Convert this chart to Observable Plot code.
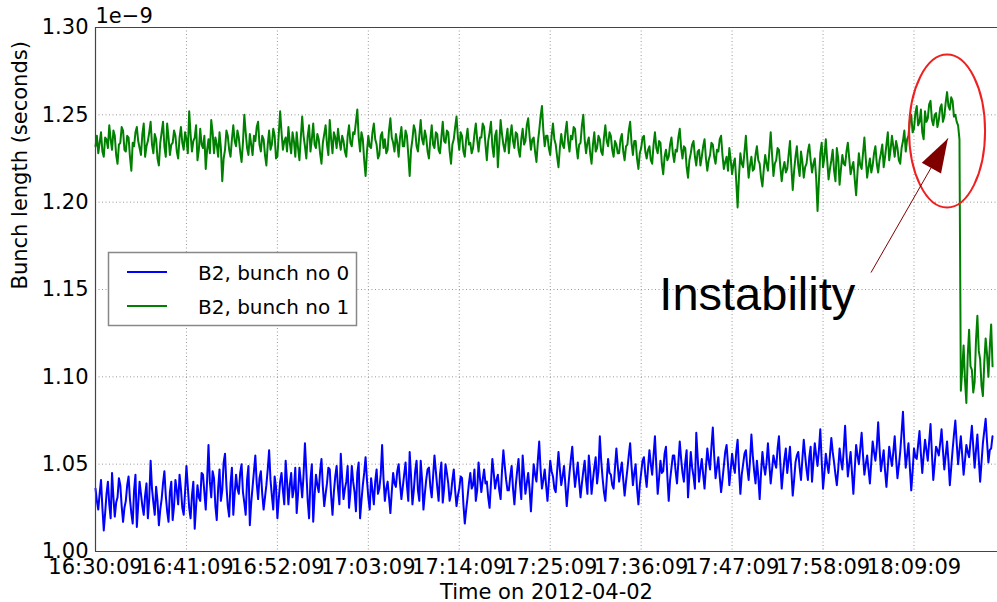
<!DOCTYPE html>
<html><head><meta charset="utf-8">
<script src="https://cdn.jsdelivr.net/npm/d3@7"></script>
<script src="https://cdn.jsdelivr.net/npm/@observablehq/plot@0.6"></script>
<style>
html,body{margin:0;padding:0;background:#fff;}
#chart svg{display:block;}
</style></head><body><div id="chart"></div>
<script>
// ---- data ----
const startTime = "2012-04-02T16:30:09Z";
const endTime = "2012-04-02T18:19:15Z";
const sampleSeconds = 10;
const seriesNames = ["B2, bunch no 0", "B2, bunch no 1"];
const seriesColors = ["#0000ff", "#008000"];

// bunch length in units of 1e-9 s, one sample every 10 s
const bunch0 = [
1.036,1.029,1.024,1.033,1.041,1.025,1.012,1.022,1.033,1.040,1.027,1.019,1.045,1.031,1.020,1.028,1.031,1.042,1.038,1.026,
1.017,1.025,1.029,1.038,1.043,1.030,1.022,1.016,1.035,1.044,1.014,1.027,1.040,1.033,1.026,1.021,1.032,1.039,1.019,1.030,
1.052,1.036,1.028,1.021,1.037,1.029,1.015,1.024,1.030,1.039,1.046,1.032,1.023,1.017,1.034,1.040,1.018,1.026,1.041,1.035,
1.027,1.044,1.036,1.025,1.021,1.034,1.049,1.037,1.025,1.019,1.032,1.040,1.013,1.026,1.038,1.031,1.029,1.045,1.044,1.034,
1.024,1.041,1.061,1.040,1.031,1.046,1.042,1.026,1.018,1.036,1.047,1.029,1.035,1.051,1.056,1.038,1.026,1.020,1.039,1.048,
1.021,1.033,1.044,1.036,1.033,1.045,1.050,1.034,1.028,1.021,1.041,1.049,1.015,1.028,1.037,1.046,1.055,1.039,1.030,1.042,
1.046,1.033,1.024,1.031,1.038,1.047,1.058,1.041,1.032,1.024,1.043,1.037,1.019,1.030,1.040,1.045,1.035,1.027,1.052,1.040,
1.027,1.038,1.045,1.031,1.036,1.048,1.022,1.033,1.048,1.040,1.031,1.044,1.062,1.046,1.029,1.019,1.041,1.050,1.017,1.032,
1.044,1.038,1.034,1.046,1.053,1.037,1.026,1.033,1.039,1.048,1.047,1.032,1.021,1.034,1.043,1.049,1.036,1.027,1.056,1.042,
1.030,1.036,1.040,1.049,1.025,1.034,1.049,1.040,1.034,1.023,1.045,1.051,1.019,1.029,1.038,1.045,1.054,1.041,1.031,1.024,
1.042,1.035,1.027,1.040,1.047,1.033,1.036,1.044,1.061,1.042,1.029,1.036,1.040,1.031,1.022,1.034,1.045,1.039,1.037,1.046,
1.050,1.039,1.030,1.037,1.044,1.051,1.038,1.029,1.057,1.043,1.027,1.035,1.046,1.052,1.035,1.029,1.052,1.041,1.024,1.033,
1.041,1.047,1.048,1.037,1.031,1.043,1.055,1.046,1.037,1.029,1.044,1.051,1.028,1.036,1.050,1.045,1.039,1.029,1.033,1.041,
1.047,1.035,1.026,1.032,1.036,1.043,1.042,1.027,1.016,1.024,1.031,1.039,1.045,1.036,1.038,1.047,1.029,1.035,1.051,1.042,
1.034,1.041,1.047,1.039,1.040,1.031,1.025,1.039,1.053,1.045,1.036,1.041,1.044,1.035,1.030,1.046,1.058,1.049,1.041,1.035,
1.035,1.043,1.049,1.036,1.027,1.038,1.046,1.053,1.039,1.030,1.055,1.044,1.033,1.039,1.045,1.036,1.023,1.037,1.050,1.044,
1.040,1.052,1.063,1.047,1.036,1.041,1.047,1.038,1.029,1.040,1.052,1.046,1.043,1.036,1.034,1.046,1.057,1.047,1.038,1.043,
1.049,1.038,1.026,1.036,1.045,1.053,1.060,1.047,1.037,1.044,1.051,1.040,1.031,1.039,1.046,1.052,1.041,1.033,1.055,1.046,
1.033,1.041,1.048,1.054,1.039,1.046,1.066,1.052,1.042,1.034,1.029,1.041,1.053,1.045,1.044,1.038,1.036,1.048,1.059,1.049,
1.040,1.046,1.051,1.041,1.032,1.040,1.047,1.055,1.062,1.049,1.038,1.045,1.050,1.036,1.027,1.038,1.045,1.052,1.054,1.044,
1.037,1.048,1.058,1.050,1.044,1.055,1.066,1.049,1.033,1.042,1.052,1.045,1.046,1.056,1.060,1.043,1.029,1.041,1.048,1.055,
1.055,1.046,1.039,1.051,1.063,1.053,1.045,1.040,1.051,1.058,1.031,1.044,1.057,1.048,1.043,1.036,1.068,1.054,1.040,1.047,
1.053,1.044,1.036,1.048,1.059,1.052,1.047,1.060,1.071,1.055,1.042,1.048,1.054,1.043,1.034,1.041,1.049,1.057,1.061,1.050,
1.038,1.047,1.056,1.049,1.045,1.057,1.064,1.047,1.033,1.044,1.050,1.056,1.058,1.048,1.041,1.052,1.067,1.055,1.046,1.039,
1.052,1.043,1.030,1.045,1.057,1.049,1.044,1.051,1.062,1.050,1.039,1.047,1.055,1.051,1.048,1.059,1.066,1.050,1.036,1.045,
1.053,1.059,1.045,1.052,1.060,1.046,1.032,1.041,1.051,1.055,1.057,1.048,1.041,1.053,1.064,1.055,1.047,1.041,1.054,1.060,
1.040,1.051,1.062,1.055,1.049,1.058,1.070,1.052,1.036,1.045,1.056,1.050,1.045,1.055,1.065,1.057,1.051,1.044,1.038,1.047,
1.059,1.052,1.047,1.058,1.072,1.056,1.043,1.050,1.057,1.045,1.033,1.047,1.061,1.055,1.050,1.059,1.068,1.055,1.044,1.050,
1.055,1.047,1.039,1.051,1.063,1.057,1.052,1.060,1.074,1.059,1.046,1.052,1.058,1.046,1.037,1.048,1.060,1.054,1.049,1.057,
1.066,1.053,1.042,1.049,1.057,1.068,1.080,1.062,1.048,1.055,1.062,1.048,1.035,1.046,1.059,1.054,1.053,1.061,1.069,1.056,
1.045,1.055,1.064,1.058,1.052,1.063,1.073,1.056,1.041,1.050,1.060,1.058,1.055,1.062,1.070,1.058,1.047,1.055,1.063,1.052,
1.038,1.048,1.058,1.067,1.075,1.062,1.050,1.058,1.066,1.055,1.044,1.052,1.061,1.057,1.054,1.063,1.072,1.060,1.048,1.058,
1.067,1.053,1.040,1.051,1.062,1.069,1.076,1.063,1.051,1.058,1.059,1.066
];

const bunch1 = [
1.232,1.238,1.228,1.234,1.240,1.229,1.226,1.237,1.236,1.231,1.244,1.236,1.230,1.241,1.238,1.227,1.222,1.233,1.234,1.243,
1.241,1.230,1.229,1.238,1.237,1.226,1.218,1.234,1.232,1.240,1.243,1.235,1.231,1.227,1.239,1.245,1.226,1.232,1.235,1.240,
1.246,1.233,1.228,1.239,1.236,1.225,1.221,1.234,1.240,1.246,1.232,1.226,1.245,1.237,1.227,1.233,1.234,1.241,1.238,1.229,
1.225,1.237,1.243,1.234,1.230,1.240,1.236,1.228,1.252,1.239,1.229,1.235,1.237,1.244,1.224,1.230,1.242,1.233,1.231,1.238,
1.219,1.230,1.236,1.228,1.247,1.240,1.228,1.237,1.233,1.226,1.240,1.231,1.212,1.225,1.230,1.241,1.238,1.230,1.226,1.236,
1.244,1.235,1.232,1.241,1.237,1.229,1.223,1.234,1.250,1.240,1.231,1.227,1.239,1.233,1.227,1.238,1.235,1.243,1.246,1.233,
1.229,1.238,1.236,1.227,1.221,1.233,1.241,1.230,1.233,1.242,1.238,1.225,1.226,1.239,1.252,1.240,1.230,1.235,1.237,1.229,
1.243,1.234,1.228,1.240,1.235,1.226,1.240,1.231,1.224,1.237,1.249,1.238,1.232,1.225,1.238,1.244,1.229,1.236,1.245,1.233,
1.231,1.239,1.236,1.228,1.222,1.234,1.239,1.244,1.233,1.227,1.247,1.236,1.228,1.240,1.237,1.231,1.242,1.235,1.230,1.238,
1.235,1.229,1.226,1.238,1.244,1.234,1.232,1.240,1.239,1.246,1.253,1.237,1.229,1.240,1.236,1.224,1.215,1.229,1.238,1.232,
1.231,1.240,1.245,1.236,1.233,1.225,1.227,1.238,1.240,1.231,1.236,1.228,1.230,1.241,1.248,1.237,1.234,1.229,1.239,1.234,
1.226,1.237,1.243,1.232,1.232,1.241,1.238,1.227,1.215,1.230,1.236,1.244,1.241,1.232,1.229,1.238,1.247,1.236,1.233,1.241,
1.237,1.229,1.225,1.236,1.244,1.233,1.231,1.240,1.239,1.230,1.228,1.237,1.246,1.235,1.234,1.241,1.240,1.229,1.222,1.233,
1.236,1.243,1.249,1.237,1.230,1.240,1.238,1.229,1.226,1.236,1.242,1.233,1.234,1.228,1.231,1.239,1.245,1.236,1.229,1.237,
1.237,1.245,1.243,1.233,1.224,1.235,1.240,1.246,1.232,1.226,1.238,1.241,1.220,1.233,1.247,1.239,1.233,1.229,1.236,1.242,
1.228,1.238,1.244,1.235,1.231,1.240,1.239,1.230,1.226,1.236,1.242,1.233,1.235,1.244,1.248,1.238,1.230,1.236,1.237,1.229,
1.223,1.234,1.241,1.249,1.255,1.241,1.232,1.238,1.238,1.231,1.227,1.238,1.245,1.236,1.233,1.226,1.220,1.231,1.239,1.233,
1.231,1.240,1.246,1.235,1.229,1.238,1.236,1.243,1.242,1.232,1.225,1.233,1.234,1.244,1.250,1.236,1.228,1.234,1.237,1.228,
1.222,1.233,1.240,1.229,1.231,1.238,1.236,1.229,1.227,1.237,1.244,1.235,1.232,1.240,1.238,1.230,1.226,1.235,1.233,1.228,
1.228,1.236,1.239,1.229,1.224,1.232,1.233,1.241,1.246,1.234,1.227,1.235,1.235,1.225,1.219,1.228,1.231,1.237,1.238,1.229,
1.225,1.230,1.232,1.224,1.222,1.233,1.240,1.231,1.228,1.235,1.234,1.222,1.216,1.226,1.230,1.224,1.226,1.233,1.237,1.228,
1.223,1.230,1.229,1.237,1.242,1.231,1.225,1.232,1.231,1.220,1.214,1.224,1.228,1.233,1.235,1.226,1.221,1.229,1.230,1.221,
1.226,1.232,1.236,1.225,1.218,1.224,1.227,1.234,1.233,1.226,1.222,1.230,1.229,1.236,1.238,1.227,1.219,1.223,1.226,1.218,
1.231,1.224,1.216,1.222,1.225,1.212,1.197,1.215,1.228,1.222,1.220,1.229,1.238,1.225,1.214,1.221,1.226,1.218,1.219,1.227,
1.232,1.224,1.222,1.214,1.209,1.219,1.227,1.222,1.218,1.229,1.240,1.227,1.215,1.222,1.224,1.231,1.230,1.220,1.212,1.219,
1.223,1.217,1.219,1.227,1.235,1.220,1.207,1.218,1.226,1.232,1.221,1.215,1.229,1.223,1.214,1.220,1.222,1.229,1.233,1.224,
1.217,1.222,1.225,1.214,1.195,1.212,1.228,1.234,1.220,1.226,1.236,1.224,1.213,1.219,1.224,1.230,1.218,1.212,1.231,1.225,
1.210,1.219,1.227,1.222,1.221,1.229,1.234,1.225,1.216,1.220,1.223,1.213,1.204,1.217,1.228,1.221,1.219,1.228,1.237,1.225,
1.214,1.220,1.225,1.217,1.221,1.228,1.232,1.222,1.217,1.224,
1.228,1.233,1.220,1.226,1.233,1.240,1.224,1.230,1.238,1.232,1.226,1.235,1.231,1.224,1.222,1.231,1.235,1.241,1.229,1.236,
1.238,1.247,1.250,1.240,1.242,1.251,1.255,1.244,1.246,1.253,1.240,1.236,1.252,1.246,1.248,1.256,1.258,1.247,1.244,1.250,
1.251,1.243,1.247,1.254,1.256,1.246,1.249,1.257,1.263,1.255,1.253,1.260,1.258,1.249,1.250,1.246,1.244,
1.236,
1.092,1.104,1.118,1.098,1.085,1.112,1.127,1.106,1.104,1.091,1.097,1.121,1.135,1.115,1.110,1.095,1.089,1.108,1.122,1.113,
1.100,1.117,1.130,1.106
];

const xTickLabels = ["16:30:09","16:41:09","16:52:09","17:03:09","17:14:09","17:25:09","17:36:09","17:47:09","17:58:09","18:09:09"];
const yTicks = [1.00, 1.05, 1.10, 1.15, 1.20, 1.25, 1.30];
const yOffsetLabel = "1e\u22129";
const xTitle = "Time on 2012-04-02";
const yTitle = "Bunch length (seconds)";
const annotationText = "Instability";
const annotationTextAt = ["2012-04-02T17:38:21Z", 1.138];
const ellipseAt = ["2012-04-02T18:13:09Z", 1.2407];
const arrowFrom = ["2012-04-02T18:03:57Z", 1.1597];
const arrowTo = ["2012-04-02T18:13:15Z", 1.2365];

// ---- build ----
const t0 = new Date(startTime);
const timeAt = i => new Date(+t0 + i * sampleSeconds * 1000);
const rows0 = bunch0.map((v, i) => ({t: timeAt(i), v}));
const rows1 = bunch1.map((v, i) => ({t: timeAt(i), v}));
const xTickDates = xTickLabels.map(s => new Date(`2012-04-02T${s}Z`));
const pt = a => ({t: new Date(a[0]), v: a[1]});

const ellipseSymbol = {draw(ctx) {
  const rx = 38, ry = 76.5, k = 0.5523;
  ctx.moveTo(rx, 0);
  ctx.bezierCurveTo(rx, ry * k, rx * k, ry, 0, ry);
  ctx.bezierCurveTo(-rx * k, ry, -rx, ry * k, -rx, 0);
  ctx.bezierCurveTo(-rx, -ry * k, -rx * k, -ry, 0, -ry);
  ctx.bezierCurveTo(rx * k, -ry, rx, -ry * k, rx, 0);
  ctx.closePath();
}};
const headSymbol = {draw(ctx) {
  ctx.moveTo(0, 0); ctx.lineTo(-11, 34); ctx.lineTo(11, 34); ctx.closePath();
}};

const gridStyle = {stroke: "#999", strokeOpacity: 1, strokeWidth: 1, strokeDasharray: "1,2.5"};
const frameColor = "#444";

const chart = Plot.plot({
  width: 997, height: 602,
  marginLeft: 95, marginRight: 0, marginTop: 27, marginBottom: 51,
  style: {fontFamily: "DejaVu Sans", fontSize: "21px", background: "#fff", color: "#000"},
  x: {type: "utc", domain: [t0, new Date(endTime)]},
  y: {domain: [1.0, 1.3]},
  marks: [
    Plot.gridX(xTickDates, gridStyle),
    Plot.gridY(yTicks, gridStyle),
    Plot.axisX({ticks: xTickDates, tickFormat: d3.utcFormat("%H:%M:%S"), tickSize: 0, tickPadding: 8, label: null}),
    Plot.axisY({ticks: yTicks, tickFormat: d3.format(".2f"), tickSize: 0, tickPadding: 7, label: null}),
    Plot.line(rows0, {x: "t", y: "v", stroke: seriesColors[0], strokeWidth: 2, strokeLinejoin: "round"}),
    Plot.line(rows1, {x: "t", y: "v", stroke: seriesColors[1], strokeWidth: 2, strokeLinejoin: "round"}),
    Plot.ruleY([1.0, 1.3], {stroke: frameColor, strokeWidth: 1.2}),
    Plot.ruleX([t0], {stroke: frameColor, strokeWidth: 1.2}),
    Plot.dot([pt(ellipseAt)], {x: "t", y: "v", r: 1, symbol: ellipseSymbol, fill: "none", stroke: "#ee2020", strokeWidth: 2}),
    Plot.link([{a: pt(arrowFrom), b: pt(arrowTo)}], {x1: d => d.a.t, y1: d => d.a.v, x2: d => d.b.t, y2: d => d.b.v, stroke: "#800000", strokeWidth: 1}),
    Plot.dot([pt(arrowTo)], {x: "t", y: "v", r: 1, symbol: headSymbol, rotate: 29, fill: "#800000", stroke: "none"}),
    Plot.text([{...pt(annotationTextAt), label: annotationText}], {x: "t", y: "v", text: "label", textAnchor: "start", lineAnchor: "bottom", fontSize: 47, fontFamily: "Liberation Sans", fill: "#000"}),
    Plot.text([yOffsetLabel], {frameAnchor: "top-left", text: d => d, textAnchor: "start", lineAnchor: "bottom", dy: -5}),
    Plot.text([xTitle], {frameAnchor: "bottom", text: d => d, lineAnchor: "bottom", dy: 47}),
    Plot.text([yTitle], {frameAnchor: "left", text: d => d, rotate: -90, dx: -75})
  ]
});

// legend (inside the plot, in the empty band on the left)
const svg = d3.select(chart);
const lg = svg.append("g").attr("font-family", "DejaVu Sans").attr("font-size", 20).attr("text-anchor", "start");
lg.append("rect").attr("x", 108.5).attr("y", 252.5).attr("width", 248).attr("height", 73)
  .attr("fill", "#fff").attr("stroke", "#888").attr("stroke-width", 1.5);
seriesNames.forEach((name, i) => {
  const yy = 272 + i * 34;
  lg.append("line").attr("x1", 127).attr("x2", 167).attr("y1", yy).attr("y2", yy)
    .attr("stroke", seriesColors[i]).attr("stroke-width", 2);
  lg.append("text").attr("x", 198).attr("y", yy + 8).attr("fill", "#000").attr("text-anchor", "start").text(name);
});

document.getElementById("chart").appendChild(chart);
</script>
</body></html>
